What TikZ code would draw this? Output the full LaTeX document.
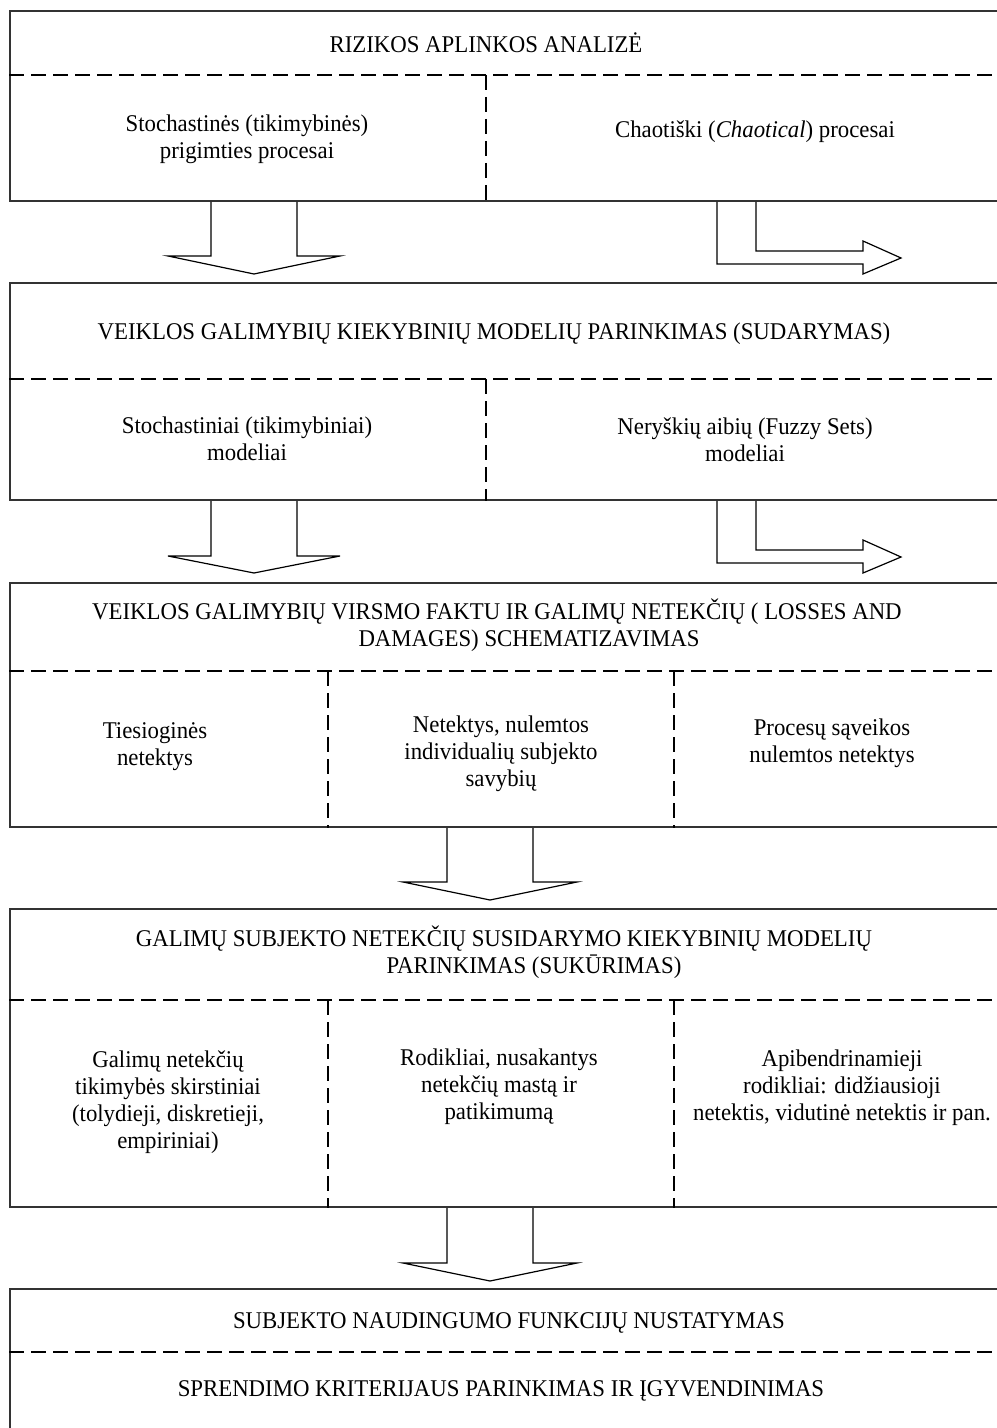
\documentclass[tikz,border=0pt]{standalone}
\usepackage{fontspec}
\setmainfont[FakeStretch=0.95]{Liberation Serif}
\usetikzlibrary{positioning, calc}

\newcommand{\txt}{\fontsize{12}{13.5}\selectfont}

\begin{document}
\begin{tikzpicture}[
        x=0.5pt, y=-0.5pt,
        frame/.style={rectangle, draw=black!80, line width=1pt, inner sep=0pt, minimum width=500pt},
        divider/.style={draw=black, line width=1.1pt, dash pattern=on 7.5pt off 3.5pt},
        label/.style={font=\txt, align=center, inner sep=0pt},
        blockarrow/.style={draw=black, line width=0.6pt, line join=miter},
    ]
        \useasboundingbox (0,0) rectangle (996,1428);

        % Boxes (right and bottom edges run off the page)
        \node[frame, minimum height=95pt] (risk) at (510,106) {};
        \node[frame, minimum height=108.5pt] (models) at (510,391.5) {};
        \node[frame, minimum height=122pt] (losses) at (510,705) {};
        \node[frame, minimum height=149pt] (lossmod) at (510,1058) {};
        \node[frame, minimum height=75.5pt] (util) at (510,1364.5) {};

        % Dashed dividers
        \draw[divider] (risk.west |- 0,75) -- (risk.east |- 0,75);
        \draw[divider] (486,75) -- (risk.south -| 486,0);
        \draw[divider] (models.west |- 0,379) -- (models.east |- 0,379);
        \draw[divider] (486,379) -- (models.south -| 486,0);
        \draw[divider] (losses.west |- 0,671) -- (losses.east |- 0,671);
        \draw[divider] (328,671) -- (losses.south -| 328,0);
        \draw[divider] (674,671) -- (losses.south -| 674,0);
        \draw[divider] (lossmod.west |- 0,1000) -- (lossmod.east |- 0,1000);
        \draw[divider] (328,1000) -- (lossmod.south -| 328,0);
        \draw[divider] (674,1000) -- (lossmod.south -| 674,0);
        \draw[divider] (util.west |- 0,1352) -- (util.east |- 0,1352);

        % Texts
        \node[label] (riskT) at (486,43) {RIZIKOS APLINKOS ANALIZĖ};
        \node[label] (riskL) at (247,139) {Stochastinės (tikimybinės)\\prigimties procesai};
        \node[label] (riskR) at (755,132) {Chaotiški (\textit{Chaotical}) procesai};

        \node[label] (modT) at (494,334) {VEIKLOS GALIMYBIŲ KIEKYBINIŲ MODELIŲ PARINKIMAS (SUDARYMAS)};
        \node[label] (modL) at (247,439) {Stochastiniai (tikimybiniai)\\modeliai};
        \node[label] (modR) at (745,440) {Neryškių aibių (Fuzzy Sets)\\modeliai};

        \node[label] (lossT) at (497,625) {VEIKLOS GALIMYBIŲ VIRSMO FAKTU IR GALIMŲ NETEKČIŲ ( LOSSES AND\\\hspace*{32pt}DAMAGES) SCHEMATIZAVIMAS};
        \node[label] (lossL) at (155,747) {Tiesioginės\\netektys};
        \node[label] (lossM) at (501,754) {Netektys, nulemtos\\individualių subjekto\\savybių};
        \node[label] (lossR) at (832,743) {Procesų sąveikos\\nulemtos netektys};

        \node[label] (lmT) at (504,952) {GALIMŲ SUBJEKTO NETEKČIŲ SUSIDARYMO KIEKYBINIŲ MODELIŲ\\\hspace*{30pt}PARINKIMAS (SUKŪRIMAS)};
        \node[label] (lmL) at (168,1102) {Galimų netekčių\\tikimybės skirstiniai\\(tolydieji, diskretieji,\\empiriniai)};
        \node[label] (lmM) at (499,1087) {Rodikliai, nusakantys\\netekčių mastą ir\\patikimumą};
        \node[label] (lmR) at (842,1088) {Apibendrinamieji\\rodikliai: didžiausioji\\netektis, vidutinė netektis ir pan.};

        \node[label] (utilT) at (509,1323) {SUBJEKTO NAUDINGUMO FUNKCIJŲ NUSTATYMAS};
        \node[label] (utilB) at (501,1391) {SPRENDIMO KRITERIJAUS PARINKIMAS IR ĮGYVENDINIMAS};

        % Block arrows down
        \draw[blockarrow] (risk.south -| 211,0) -- ++(0,54) -- ++(-43,0) -- ++(86,18) -- ++(86,-18) -- ++(-43,0) -- (risk.south -| 297,0);
        \draw[blockarrow] (models.south -| 211,0) -- ++(0,55) -- ++(-43,0) -- ++(86,17) -- ++(86,-17) -- ++(-43,0) -- (models.south -| 297,0);
        \draw[blockarrow] (losses.south -| 447,0) -- ++(0,54) -- ++(-44,0) -- ++(87,18) -- ++(87,-18) -- ++(-44,0) -- (losses.south -| 533,0);
        \draw[blockarrow] (lossmod.south -| 447,0) -- ++(0,55) -- ++(-44,0) -- ++(87,18) -- ++(87,-18) -- ++(-44,0) -- (lossmod.south -| 533,0);

        % Bent block arrows to the right
        \draw[blockarrow] (risk.south -| 717,0) -- ++(0,62) -- ++(146,0) -- ++(0,10) -- ++(38,-16) -- ++(-38,-17) -- ++(0,10) -- ++(-107,0) -- (risk.south -| 756,0);
        \draw[blockarrow] (models.south -| 717,0) -- ++(0,62) -- ++(146,0) -- ++(0,10) -- ++(38,-16) -- ++(-38,-17) -- ++(0,10) -- ++(-107,0) -- (models.south -| 756,0);
    \end{tikzpicture}
\end{document}
